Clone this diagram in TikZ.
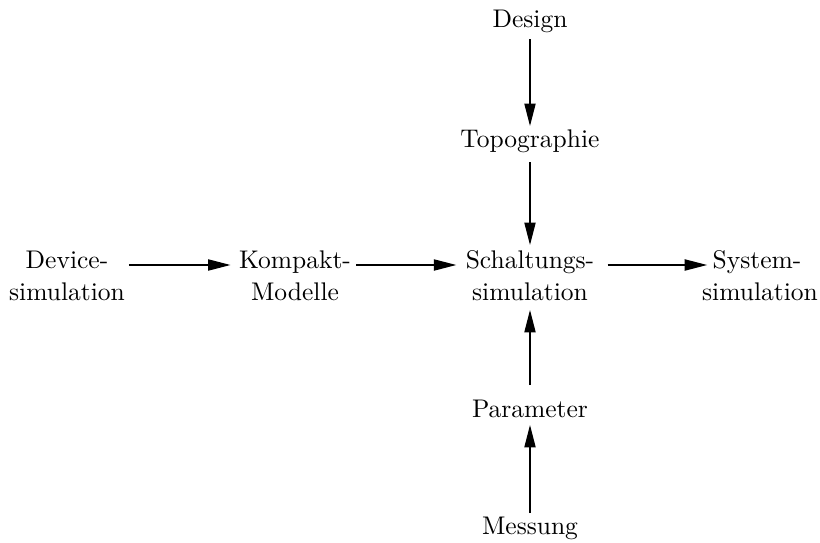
\documentclass[tikz,border=0pt]{standalone}
\usetikzlibrary{arrows.meta}
\begin{document}
\begin{tikzpicture}[x=0.392pt,y=-0.392pt,
  lbl/.style={inner sep=0pt,anchor=base},
  arr/.style={-{Triangle[length=8.8pt,width=4.4pt]},line width=0.5pt}]
\useasboundingbox (0,0) rectangle (820,543);
% vertical column
\node[lbl] (des) at (530,27) {Design};
\node[lbl] (top) at (530,147) {Topographie};
\node[lbl] (sch) at (530,268) {Schaltungs-};
\node[lbl] (schb) at (530,300) {simulation};
\node[lbl] (par) at (530,417) {Parameter};
\node[lbl] (mes) at (530,534) {Messung};
% horizontal row
\node[lbl] (dev) at (67,268) {Device-};
\node[lbl] (devb) at (67,300) {simulation};
\node[lbl] (kom) at (295,268) {Kompakt-};
\node[lbl] (komb) at (295,300) {Modelle};
\node[lbl] (sys) at (757,268) {System-};
\node[lbl] (sysb) at (760,300) {simulation};
% connectors
\draw[arr] ([shift={(0,12)}]des.base) -- ([shift={(0,-21)}]top.base);
\draw[arr] ([shift={(0,15)}]top.base) -- ([shift={(0,-23)}]sch.base);
\draw[arr] ([shift={(0,-32)}]par.base) -- ([shift={(0,10)}]schb.base);
\draw[arr] ([shift={(0,-21)}]mes.base) -- ([shift={(0,8)}]par.base);
\draw[arr] ([shift={(20,-3)}]dev.base east) -- ([shift={(-8,-3)}]kom.base west);
\draw[arr] ([shift={(5,-3)}]kom.base east) -- ([shift={(-9,-3)}]sch.base west);
\draw[arr] ([shift={(13,-3)}]sch.base east) -- ([shift={(-5,-3)}]sys.base west);
\end{tikzpicture}
\end{document}
